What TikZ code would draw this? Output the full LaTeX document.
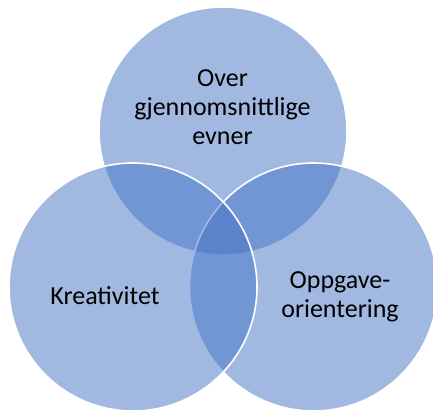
\documentclass[tikz,border=0pt]{standalone}
\usepackage{fontspec}
\setmainfont{Carlito}
\definecolor{venn}{HTML}{4472C4}
\begin{document}
\begin{tikzpicture}[x=1pt,y=-1pt,
  vcircle/.style={fill=venn,fill opacity=0.5,draw=white,line width=1.6pt},
  vlabel/.style={anchor=base,inner sep=0pt,text=black,font=\fontsize{26}{29}\selectfont}]
\useasboundingbox (0,0) rectangle (433,414);
\path[vcircle] (223,131) circle (124);
\path[vcircle] (313.5,287) circle (124);
\path[vcircle] (133,287) circle (124);
\node[vlabel] (t1) at (222.5,86.5) {Over};
\node[vlabel] (t2) at (222.5,116) {gjennomsnittlige};
\node[vlabel] (t3) at (222.5,145) {evner};
\node[vlabel] (k1) at (105,304.5) {Kreativitet};
\node[vlabel] (o1) at (340,288.5) {Oppgave-};
\node[vlabel] (o2) at (340,317) {orientering};
\end{tikzpicture}
\end{document}
